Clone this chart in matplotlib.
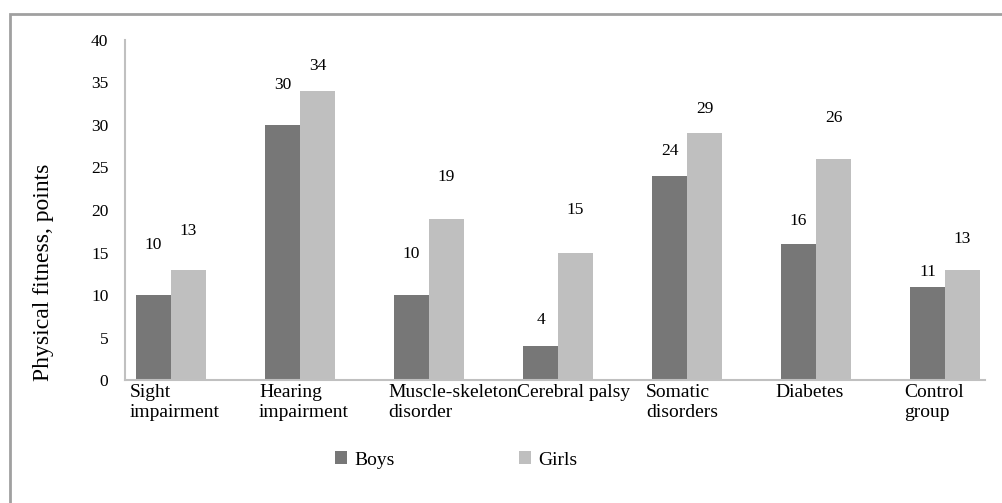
import matplotlib
matplotlib.use("Agg")
import matplotlib.pyplot as plt
import numpy as np


categories = [
    "Sight\nimpairment",
    "Hearing\nimpairment",
    "Muscle-skeleton\ndisorder",
    "Cerebral palsy",
    "Somatic\ndisorders",
    "Diabetes",
    "Control\ngroup",
]

boys = [10, 30, 10, 4, 24, 16, 11]
girls = [13, 34, 19, 15, 29, 26, 13]

# label gaps above the bars (points), they are not uniform in the original
boys_pad = [30, 23, 24, 13, 12, 11, 5]
girls_pad = [22, 12, 24, 25, 12, 24, 16]

y_ticks = [0, 5, 10, 15, 20, 25, 30, 35, 40]

DARK = "#777777"
LIGHT = "#bfbfbf"


plt.rcParams["font.family"] = ["Liberation Serif", "DejaVu Serif"]

fig = plt.figure(figsize=(10.02, 5.03), dpi=100)

ax = fig.add_axes([0.1248, 0.2445, 0.983 - 0.1248, 0.9205 - 0.2445])

x = np.arange(len(categories))
w = 0.271

bars_b = ax.bar(x - w / 2, boys, w, color=DARK, label="Boys")
bars_g = ax.bar(x + w / 2, girls, w, color=LIGHT, label="Girls")

for bars, vals, pads in [(bars_b, boys, boys_pad), (bars_g, girls, girls_pad)]:
    for bar, v, p in zip(bars, vals, pads):
        ax.annotate(
            str(v),
            (bar.get_x() + bar.get_width() / 2, bar.get_height()),
            xytext=(0, p),
            textcoords="offset points",
            ha="center",
            va="bottom",
            fontsize=12.5,
        )

ax.set_xlim(-0.357, 6.31)
ax.set_ylim(0, 40)
ax.set_yticks(y_ticks)
ax.tick_params(axis="y", length=0, pad=12, labelsize=12.5)
ax.set_xticks([])

for i, name in enumerate(categories):
    ax.text(
        i - 0.318,
        -0.45,
        name,
        ha="left",
        va="top",
        fontsize=14,
        linespacing=1.25,
    )

for s in ["top", "right"]:
    ax.spines[s].set_visible(False)
for s in ["left", "bottom"]:
    ax.spines[s].set_color("#c0c0c0")
    ax.spines[s].set_linewidth(1.5)

ax.set_ylabel("Physical fitness, points", fontsize=17, va="center")
ax.yaxis.set_label_coords(-0.0953, 0.318)

fig.legend(
    loc="center left",
    bbox_to_anchor=(335 / 1002, 1 - 460 / 503),
    ncol=2,
    frameon=False,
    fontsize=14,
    handlelength=0.62,
    handleheight=0.62,
    handletextpad=0.36,
    columnspacing=6.4,
    borderpad=0,
    borderaxespad=0,
)

# outer chart frame (only top and left edges are visible)
frame = plt.Rectangle(
    (0.0095, -0.05),
    1.1,
    0.9712 + 0.05,
    transform=fig.transFigure,
    fill=False,
    edgecolor="#a0a0a0",
    linewidth=2,
    clip_on=False,
)
fig.patches.append(frame)

fig.savefig("out.png", dpi=100)
